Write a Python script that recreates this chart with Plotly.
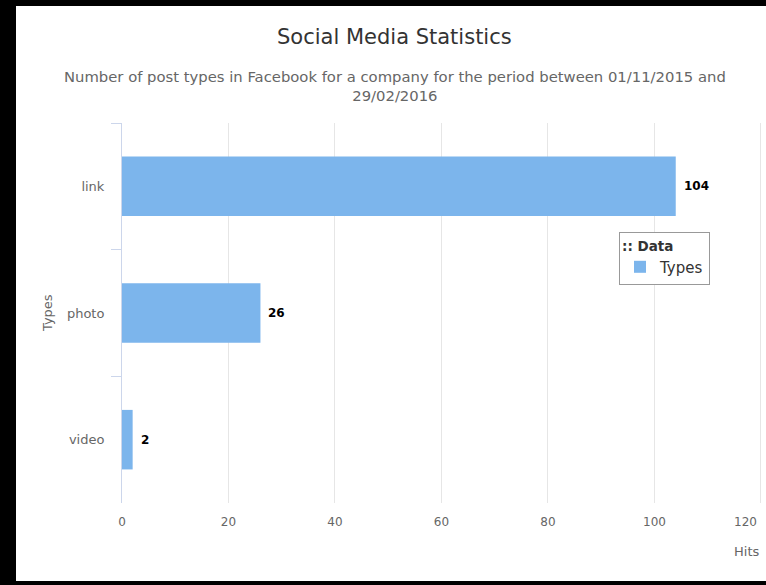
import plotly.graph_objects as go

categories = ["link", "photo", "video"]
hits = [104, 26, 2]
x_ticks = [0, 20, 40, 60, 80, 100, 120]

title_text = "Social Media Statistics"
subtitle_text = "Number of post types in Facebook for a company for the period between 01/11/2015 and<br>29/02/2016"

W, H = 766, 585
L, R, T, B = 122, 4, 123, 82
pw = W - L - R
ph = H - T - B

def px_x(p):
    return (p - L) / pw

def px_y(p):
    return (H - B - p) / ph

FONT = "DejaVu Sans"

fig = go.Figure()
fig.add_trace(go.Bar(
    x=hits, y=categories, orientation="h", name="Types",
    marker=dict(color="#7cb5ec", line=dict(width=0)),
    showlegend=True,
))

for v, c in zip(hits, categories):
    fig.add_annotation(x=v, y=c, xref="x", yref="y", text=f"<b>{v}</b>",
                       showarrow=False, xanchor="left", xshift=6,
                       font=dict(family=FONT, size=12, color="#000000"))

# last x tick label is pulled inside the chart (as the original does)
tick_text = [str(t) for t in x_ticks[:-1]] + [""]
fig.add_annotation(x=x_ticks[-1], y=0, xref="x", yref="paper", text=str(x_ticks[-1]),
                   showarrow=False, xanchor="right", yanchor="middle", xshift=-2, yshift=-19,
                   font=dict(family=FONT, size=12, color="#666666"))

# frame: black paper, white inner rect
fig.add_shape(type="rect", xref="paper", yref="paper",
              x0=px_x(16), x1=px_x(780), y0=px_y(581), y1=px_y(6),
              fillcolor="white", line=dict(width=0), layer="below")

fig.add_annotation(xref="paper", yref="paper", x=px_x(394), y=px_y(37),
                   text=title_text, showarrow=False, xanchor="center", yanchor="middle",
                   font=dict(family=FONT, size=21, color="#333333"))
fig.add_annotation(xref="paper", yref="paper", x=px_x(395), y=px_y(86),
                   text=subtitle_text, showarrow=False, xanchor="center", yanchor="middle",
                   font=dict(family=FONT, size=14.8, color="#666666"))
fig.add_annotation(xref="paper", yref="paper", x=px_x(47), y=px_y(313),
                   text="Types", showarrow=False, textangle=-90,
                   xanchor="center", yanchor="middle",
                   font=dict(family=FONT, size=13, color="#666666"))
fig.add_annotation(xref="paper", yref="paper", x=px_x(761), y=px_y(551),
                   text="Hits", showarrow=False, xanchor="right", yanchor="middle",
                   font=dict(family=FONT, size=13, color="#666666"))

fig.update_layout(
    width=W, height=H,
    margin=dict(l=L, r=R, t=T, b=B, pad=0),
    paper_bgcolor="black",
    plot_bgcolor="white",
    bargap=0.53,
    font=dict(family=FONT, color="#666666"),
    legend=dict(
        x=px_x(619), y=px_y(232), xanchor="left", yanchor="top",
        bgcolor="white", bordercolor="#999999", borderwidth=1,
        title=dict(text="<b>:: Data</b>", font=dict(family=FONT, size=13.5, color="#333333")),
        font=dict(family=FONT, size=15, color="#333333"),
    ),
    xaxis=dict(
        range=[0, 120.2], tickvals=x_ticks, ticktext=tick_text,
        showgrid=True, gridcolor="#e6e6e6",
        gridwidth=1, zeroline=False, showline=False, ticks="",
        tickfont=dict(family=FONT, size=12, color="#666666"),
        ticklabelstandoff=10, fixedrange=True,
    ),
    yaxis=dict(
        categoryorder="array", categoryarray=categories, autorange="reversed",
        showgrid=False, zeroline=False, showline=True, linecolor="#ccd6eb",
        linewidth=1, ticks="outside", tickson="boundaries", ticklen=10,
        tickcolor="#ccd6eb", tickfont=dict(family=FONT, size=13, color="#666666"),
        ticklabelstandoff=14,
    ),
)

fig.write_html("out.html", config={"displayModeBar": False},
               post_script="document.body.style.margin='0';document.body.style.overflow='hidden';")
